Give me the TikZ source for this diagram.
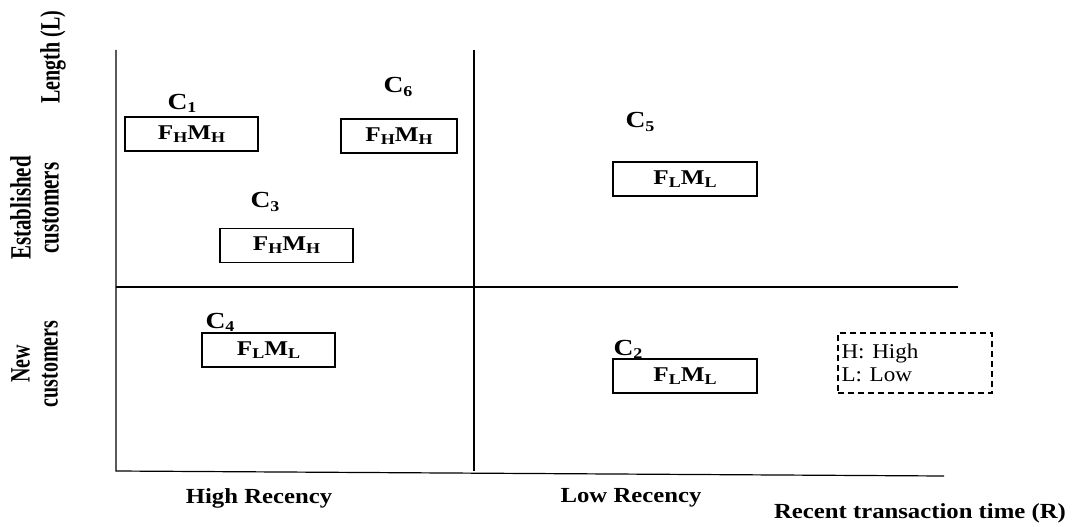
\documentclass[tikz,border=0pt]{standalone}
\usepackage{fontspec}
\setmainfont{Liberation Serif}
\newcommand{\wide}[2][1.2]{\scalebox{#1}[1]{#2}}
\newcommand{\tall}[2][1.4]{\scalebox{1}[#1]{#2}}
\newcommand{\sub}[1]{\raisebox{-0.3ex}{\fontsize{15}{15}\selectfont #1}}

\begin{document}
\begin{tikzpicture}[x=1pt,y=-1pt,line width=1.2pt,
	axlab/.style={font=\fontsize{21.5}{24}\selectfont\bfseries},
	sidelab/.style={rotate=90,align=center,font=\fontsize{20}{24}\selectfont\bfseries},
	clab/.style={font=\fontsize{23}{24}\selectfont\bfseries},
	segbox/.style={draw,minimum height=34pt,inner sep=0pt,font=\fontsize{21}{24}\selectfont\bfseries},
	keybox/.style={draw,dash pattern=on 6pt off 4pt,minimum height=60pt,text width=147pt,inner xsep=3.5pt,inner ysep=0pt,align=left,font=\fontsize{21}{23}\selectfont}]
\useasboundingbox (0,0) rectangle (1073,527);
\coordinate (tl) at (116,50);
\coordinate (bl) at (116,471);
\coordinate (tm) at (474,50);
\coordinate (bm) at (474,471);
\coordinate (ml) at (116,287);
\coordinate (mr) at (958,287);
\coordinate (br) at (944,476);
\draw (tl) -- (bl) -- (br);
\draw (tm) -- (bm);
\draw (ml) -- (mr);
\node[sidelab] (len) at (53,57) {\tall{Length (L)}};
\node[sidelab,font=\fontsize{21}{24}\selectfont\bfseries] (est) at (38,208) {\tall{\begin{tabular}{c}Established\\[-4pt]customers\end{tabular}}};
\node[sidelab] (new) at (37,364) {\tall{\begin{tabular}{c}New\\[-4pt]customers\end{tabular}}};
\node[segbox,minimum width=133pt] (b1) at (191.5,134) {\wide{F\sub{H}M\sub{H}}};
\node[segbox,minimum width=116pt] (b6) at (399,136) {\wide{F\sub{H}M\sub{H}}};
\node[segbox,minimum width=133pt] (b3) at (286.5,245.5) {\wide{F\sub{H}M\sub{H}}};
\node[segbox,minimum width=144pt] (b5) at (685,179) {\wide{F\sub{L}M\sub{L}}};
\node[segbox,minimum width=133pt] (b4) at (268.5,350) {\wide{F\sub{L}M\sub{L}}};
\node[segbox,minimum width=144pt] (b2) at (685,376) {\wide{F\sub{L}M\sub{L}}};
\node[clab] (c1) at (182,103) {\wide{C\sub{1}}};
\node[clab] (c6) at (398,87) {\wide{C\sub{6}}};
\node[clab] (c3) at (265,202) {\wide{C\sub{3}}};
\node[clab] (c5) at (640,122) {\wide{C\sub{5}}};
\node[clab] (c4) at (220,322) {\wide{C\sub{4}}};
\node[clab] (c2) at (628,349) {\wide{C\sub{2}}};
\node[keybox] (key) at (915,363) {\wide[1.1]{H: High}\\\wide[1.1]{L: Low}};
\node[axlab] (hirec) at (259,498) {\wide[1.15]{High Recency}};
\node[axlab] (lorec) at (631,498) {\wide[1.15]{Low Recency}};
\node[axlab] (rtime) at (920,513) {\wide[1.15]{Recent transaction time (R)}};
\end{tikzpicture}
\end{document}
